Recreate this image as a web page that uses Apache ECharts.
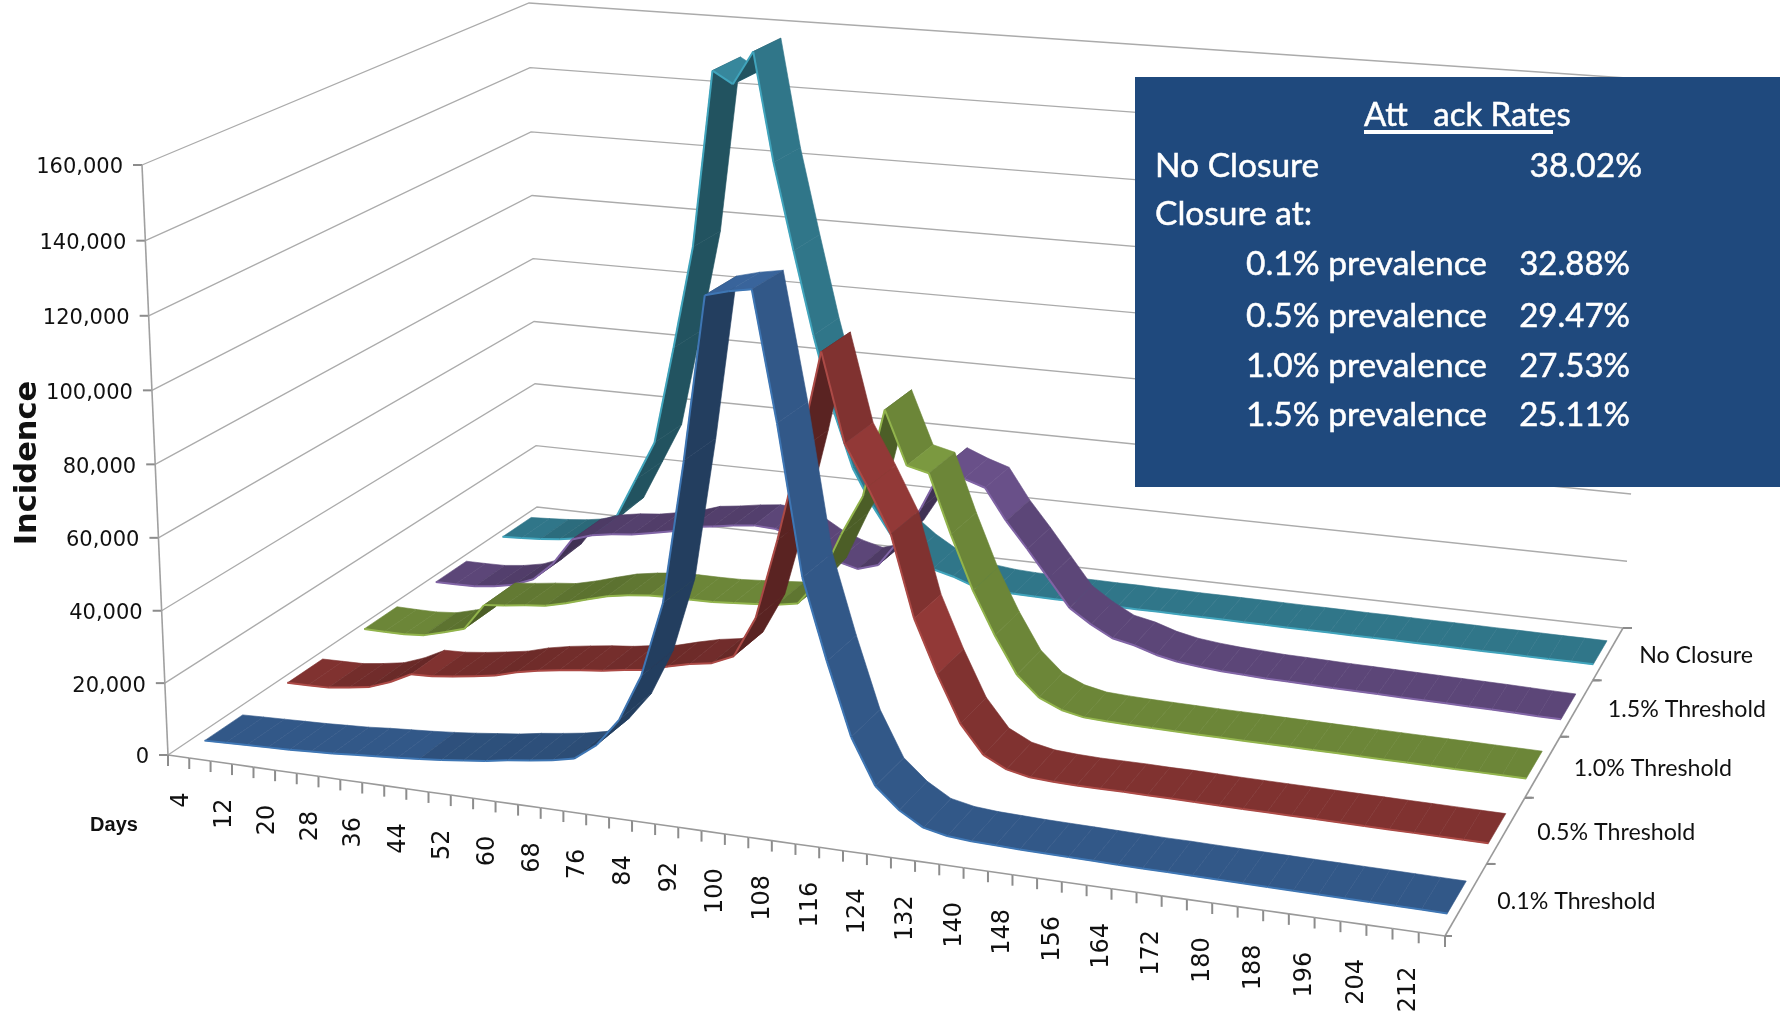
<!DOCTYPE html>
<html><head><meta charset="utf-8">
<style>html,body{margin:0;padding:0;background:#fff}#c{width:1780px;height:1013px}</style>
<script src="https://cdn.jsdelivr.net/npm/echarts@6/dist/echarts.min.js"></script>
</head><body><div id="c"></div>
<script>
var days = [4,8,12,16,20,24,28,32,36,40,44,48,52,56,60,64,68,72,76,80,84,88,92,96,100,104,108,112,116,120,124,128,132,136,140,144,148,152,156,160,164,168,172,176,180,184,188,192,196,200,204,208,212,216];
var threshold01 = [300,500,700,900,1100,1400,1700,2200,2600,3000,3500,4100,4800,5500,6500,7300,8200,9500,14000,21500,34000,54000,92000,135000,136500,137500,104000,65000,44000,25000,13000,7500,3800,2500,2000,1800,1600,1500,1400,1300,1200,1100,1100,1000,950,900,850,800,750,700,650,600,550,500];
var threshold05 = [800,900,1000,1800,2800,5000,8000,8200,8900,9800,10800,12500,13700,14600,15400,16000,17000,17800,19500,21000,22000,24700,36000,58000,82700,110000,86000,75000,63000,41000,26600,14000,6300,3200,1900,1500,1300,1300,1300,1200,1200,1100,1000,950,900,850,800,750,700,650,600,550,500,450];
var threshold10 = [1400,1300,1300,1800,3400,5200,13000,13600,14400,15000,16500,18300,20000,21000,21700,21900,21900,22000,22400,22900,23400,24500,32000,45500,57000,82000,67000,65500,49000,34000,22000,11700,6000,3300,2000,1700,1500,1400,1300,1200,1150,1100,1050,1000,950,900,850,800,750,700,650,600,550,500];
var threshold15 = [1000,1000,1100,1800,3000,5400,10800,19000,21000,22000,22600,23800,25000,27000,27800,28800,29500,29200,27600,24000,21600,20000,21900,30000,40000,52500,50000,48000,39000,31500,23600,15700,11600,8300,7000,5000,3700,3000,2500,2200,1900,1800,1650,1500,1400,1300,1200,1100,1000,900,800,650,500,400];
var noClosure = [1000,1300,1700,2300,3300,6000,11500,23700,36000,66000,97500,151000,147400,157500,125000,99000,74000,52000,34600,23600,14700,10000,6300,4700,2500,1800,1500,1400,1300,1300,1200,1200,1100,1100,1000,1000,950,900,850,800,800,750,700,700,650,600,600,550,500,500,450,400,400,350];
var valueTicks = [0,20000,40000,60000,80000,100000,120000,140000,160000];
var depthNames = ["0.1% Threshold","0.5% Threshold","1.0% Threshold","1.5% Threshold","No Closure"];
var boxRows = ["0.1% prevalence","0.5% prevalence","1.0% prevalence","1.5% prevalence"];
var boxRates = ["32.88%","29.47%","27.53%","25.11%"];

var FLOOR = [[168,755],[1445,936],[1623,628],[537,507]];
var TOP = [[142,165],[1440,265],[1656,80],[529,3]];
var W = 1780, H = 1013;
function homography(q){
  var x0=q[0][0],y0=q[0][1],x1=q[1][0],y1=q[1][1],x2=q[2][0],y2=q[2][1],x3=q[3][0],y3=q[3][1];
  var dx1=x1-x2,dx2=x3-x2,sx=x0-x1+x2-x3,dy1=y1-y2,dy2=y3-y2,sy=y0-y1+y2-y3;
  var det=dx1*dy2-dx2*dy1,g=(sx*dy2-dx2*sy)/det,h=(dx1*sy-sx*dy1)/det;
  var a=x1-x0+g*x1,b=x3-x0+h*x3,d=y1-y0+g*y1,e=y3-y0+h*y3;
  return function(u,v){var w=1+g*u+h*v;return [(x0+a*u+b*v)/w,(y0+d*u+e*v)/w];};
}
var floorH = homography(FLOOR), topH = homography(TOP);
function project(u,v,z){
  var uf=u+0.017*u*(1-u), ut=u-0.025*u*(1-u);
  var f=floorH(uf,v),t=topH(ut,v),k=z/(z+(1-z)*1.03);
  return [f[0]+(t[0]-f[0])*k,f[1]+(t[1]-f[1])*k];
}
function uz(api,i,val){var c=api.coord([i,val]);return [c[0]/W,1-c[1]/H];}
function zOf(api,val){return uz(api,0,val)[1];}

var ribbons = [
  {name:"No Closure", data:noClosure, v:0.852, base:[48,118,137], edge:[64,164,188]},
  {name:"1.5% Threshold", data:threshold15, v:0.652, base:[92,70,120], edge:[128,100,165]},
  {name:"1.0% Threshold", data:threshold10, v:0.452, base:[108,134,56], edge:[146,180,76]},
  {name:"0.5% Threshold", data:threshold05, v:0.252, base:[128,50,48], edge:[172,74,70]},
  {name:"0.1% Threshold", data:threshold01, v:0.052, base:[50,88,136], edge:[62,118,180]}
];
var RIB = 0.09, RSHIFT = 0.003;
function shade(c,f){return 'rgb('+c.map(function(x){return Math.min(255,Math.round(x*f));}).join(',')+')';}

function ribbonSeries(r){
  return {type:'custom',name:r.name,coordinateSystem:'cartesian2d',clip:false,silent:true,z:5,
    encode:{x:0,y:1},
    data:r.data.map(function(val,i){return [i,val,i<r.data.length-1?r.data[i+1]:val];}),
    renderItem:function(p,api){
      var i=api.value(0); if(i>=r.data.length-1) return null;
      var a=uz(api,i,api.value(1)), b=uz(api,i+1,api.value(2));
      var diff=api.value(2)-api.value(1), f=1;
      if(diff>500) f=1-0.3*Math.min(1,Math.sqrt(diff/7000));
      if(api.value(1)>40000 && diff>-15000 && diff<3000) f=1.14;
      var ua=a[0]+RSHIFT, ub=b[0]+RSHIFT;
      var p0=project(ua,r.v,a[1]),p1=project(ub,r.v,b[1]),
          p2=project(ub,r.v+RIB,b[1]),p3=project(ua,r.v+RIB,a[1]);
      var fill=shade(r.base,f);
      return {type:'group',children:[
        {type:'polygon',shape:{points:[p0,p1,p2,p3]},style:{fill:fill,stroke:fill,lineWidth:0.6}},
        {type:'polyline',shape:{points:[p0,p1]},style:{fill:null,stroke:shade(r.edge,1),lineWidth:2}}
      ]};
    }};
}

var wallSeries = {type:'custom',coordinateSystem:'cartesian2d',clip:false,silent:true,z:2,
  encode:{x:0,y:1},
  data:valueTicks.map(function(t){return [0,t];}),
  renderItem:function(p,api){
    var z=zOf(api,api.value(1));
    var a=project(0,0,z),b=project(0,1,z),c=project(1,1,z);
    return {type:'group',children:[
      {type:'polyline',shape:{points:[a,b,c]},style:{fill:null,stroke:'#ababab',lineWidth:1.3}},
      {type:'line',shape:{x1:a[0]-9,y1:a[1],x2:a[0],y2:a[1]},style:{stroke:'#8c8c8c',lineWidth:2}},
      {type:'text',x:a[0]-19,y:a[1]+3,style:{text:api.value(1).toLocaleString('en-US'),align:'right',verticalAlign:'middle',fill:'#111',fontSize:21,fontFamily:'"DejaVu Sans"'}}
    ]};
  }};
var yAxisLine = {type:'custom',coordinateSystem:'cartesian2d',clip:false,silent:true,z:2,
  encode:{x:0,y:1},data:[[0,0,160000]],
  renderItem:function(p,api){
    var a=project(0,0,zOf(api,api.value(1))),b=project(0,0,zOf(api,api.value(2)));
    return {type:'line',shape:{x1:a[0],y1:a[1],x2:b[0],y2:b[1]},style:{stroke:'#a0a0a0',lineWidth:1.6}};
  }};
var xTicks = {type:'custom',coordinateSystem:'cartesian2d',clip:false,silent:true,z:3,
  encode:{x:0,y:1},data:days.map(function(d,i){return [i,0];}),
  renderItem:function(p,api){
    var i=api.value(0),c=uz(api,i,0),step=1/days.length;
    var l=project(c[0]-step/2,0,0),r=project(c[0]+step/2,0,0),m=project(c[0],0,0);
    var kids=[
      {type:'line',shape:{x1:l[0],y1:l[1],x2:r[0],y2:r[1]},style:{stroke:'#9a9a9a',lineWidth:1.6}},
      {type:'line',shape:{x1:r[0],y1:r[1],x2:r[0],y2:r[1]+11},style:{stroke:'#8c8c8c',lineWidth:2}}
    ];
    if(i===0) kids.push({type:'line',shape:{x1:l[0],y1:l[1],x2:l[0],y2:l[1]+11},style:{stroke:'#8c8c8c',lineWidth:2}});
    if(i%2===0) kids.push({type:'text',x:m[0]+3,y:m[1]+36,rotation:Math.PI/2,style:{text:String(days[i]),align:'right',verticalAlign:'middle',fill:'#111',fontSize:24,fontFamily:'"DejaVu Sans"'}});
    return {type:'group',children:kids};
  }};
var depthAxis = {type:'custom',coordinateSystem:'cartesian2d',clip:false,silent:true,z:3,
  encode:{x:0,y:1},data:depthNames.map(function(n,i){return [i,0];}),
  renderItem:function(p,api){
    var i=api.value(0),a=project(1,i/5,0),b=project(1,(i+1)/5,0),m=project(1,(i+0.5)/5,0);
    return {type:'group',children:[
      {type:'line',shape:{x1:a[0],y1:a[1],x2:b[0],y2:b[1]},style:{stroke:'#9a9a9a',lineWidth:1.6}},
      {type:'line',shape:{x1:b[0],y1:b[1],x2:b[0]+9,y2:b[1]},style:{stroke:'#8c8c8c',lineWidth:2}},
      {type:'line',shape:{x1:a[0],y1:a[1],x2:a[0]+7,y2:a[1]},style:{stroke:'#8c8c8c',lineWidth:2}},
      {type:'text',x:m[0]+31,y:m[1]+2,style:{text:depthNames[i],align:'left',verticalAlign:'middle',fill:'#111',fontSize:23.2,fontFamily:'Lato'}}
    ]};
  }};

function boxText(t,x,y,align,fs){return {type:'text',z:101,x:x,y:y,style:{text:t,align:align||'left',verticalAlign:'middle',fill:'#fff',fontSize:fs||33.5,fontFamily:'Lato',stroke:'#fff',lineWidth:0.5}};}
var graphicEls = [
  {type:'rect',z:100,shape:{x:1135,y:77,width:645,height:410},style:{fill:'#1f497d'}},
  boxText('Att   ack Rates',1364,115,'left',33),
  {type:'rect',z:101,shape:{x:1364,y:130,width:189,height:4},style:{fill:'#fff'}},
  boxText('No Closure',1155,166.5),
  boxText('38.02%',1642,166.5,'right'),
  boxText('Closure at:',1155,214.5),
  {type:'text',z:50,x:28,y:463,rotation:Math.PI/2,style:{text:'Incidence',align:'center',verticalAlign:'middle',fill:'#111',fontSize:30.5,fontWeight:'bold',fontFamily:'"DejaVu Sans"'}},
  {type:'text',z:50,x:114,y:825,style:{text:'Days',align:'center',verticalAlign:'middle',fill:'#111',fontSize:20,fontWeight:'bold',fontFamily:'"Liberation Sans Narrow","Liberation Sans"'}}
];
[264.5,316,366,415].forEach(function(y,i){
  graphicEls.push(boxText(boxRows[i],1246,y));
  graphicEls.push(boxText(boxRates[i],1630,y,'right',33));
});

var chart = echarts.init(document.getElementById('c'),null,{renderer:'canvas',width:W,height:H});
chart.setOption({
  animation:false,backgroundColor:'#fff',
  grid:{left:0,right:0,top:0,bottom:0,containLabel:false},
  xAxis:{type:'category',data:days.map(String),boundaryGap:true,show:false},
  yAxis:{type:'value',min:0,max:160000,interval:20000,show:false},
  graphic:{elements:graphicEls},
  series:[wallSeries,yAxisLine,xTicks,depthAxis].concat(ribbons.map(ribbonSeries))
});
</script></body></html>
